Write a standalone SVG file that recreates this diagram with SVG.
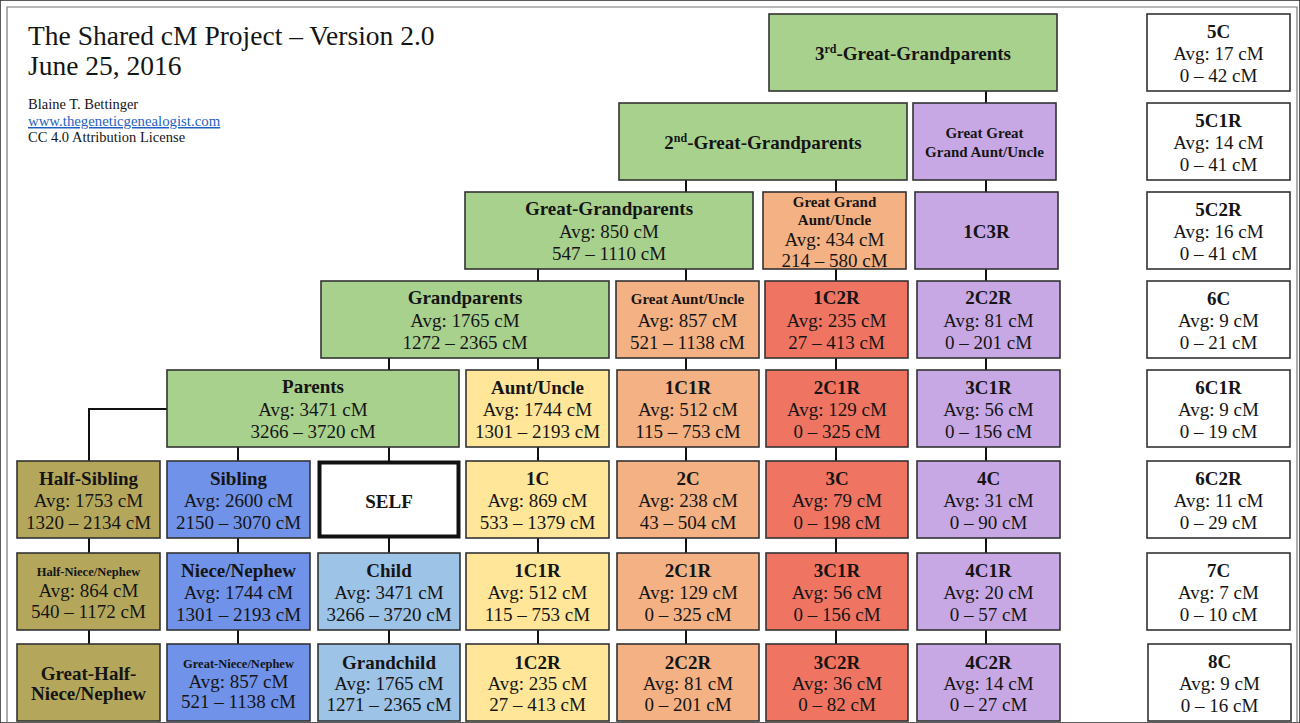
<svg xmlns="http://www.w3.org/2000/svg" width="1300" height="723" viewBox="0 0 1300 723">
<style>
text{font-family:"Liberation Serif","Times New Roman",serif;fill:#151515}
.n text{text-anchor:middle;font-size:19px}
.n .h{font-weight:bold}
.n .s{font-weight:bold;font-size:15px}
.n .xs{font-weight:bold;font-size:12.5px}
rect{stroke:#333;stroke-width:1.6}
.g{fill:#a9d18e}.o{fill:#b4a75c}.bl{fill:#7092e8}.lb{fill:#9dc3e6}.y{fill:#ffe699}.p{fill:#f4b183}.r{fill:#f07462}.pu{fill:#c8a8e4}.w{fill:#fff}
.c line,.c path{stroke:#111;stroke-width:2;fill:none}
</style>
<rect x="0" y="0" width="1300" height="723" fill="#fff" stroke="none"/>
<path d="M7,723 V7 H1297 V723" fill="none" stroke="#777" stroke-width="1.2"/>
<g id="header">
<text x="28" y="45" font-size="27.5">The Shared cM Project – Version 2.0</text>
<text x="28" y="75" font-size="27.5">June 25, 2016</text>
<text x="28" y="109" font-size="14.5">Blaine T. Bettinger</text>
<text x="28" y="126" font-size="14.8" style="fill:#1f5fc4" text-decoration="underline">www.thegeneticgenealogist.com</text>
<text x="28" y="142" font-size="14.5">CC 4.0 Attribution License</text>
</g>
<g id="connectors" class="c">
<line x1="986" y1="91" x2="986" y2="103"/>
<line x1="986" y1="180" x2="986" y2="192"/>
<line x1="986" y1="269" x2="986" y2="281"/>
<line x1="986" y1="358" x2="986" y2="370"/>
<line x1="986" y1="447" x2="986" y2="461"/>
<line x1="986" y1="538" x2="986" y2="553"/>
<line x1="986" y1="630" x2="986" y2="644"/>
<line x1="836" y1="180" x2="836" y2="192"/>
<line x1="836" y1="269" x2="836" y2="281"/>
<line x1="836" y1="358" x2="836" y2="370"/>
<line x1="836" y1="447" x2="836" y2="461"/>
<line x1="836" y1="538" x2="836" y2="553"/>
<line x1="836" y1="630" x2="836" y2="644"/>
<line x1="686" y1="180" x2="686" y2="192"/>
<line x1="686" y1="269" x2="686" y2="281"/>
<line x1="686" y1="358" x2="686" y2="370"/>
<line x1="686" y1="447" x2="686" y2="461"/>
<line x1="686" y1="538" x2="686" y2="553"/>
<line x1="686" y1="630" x2="686" y2="644"/>
<line x1="538" y1="269" x2="538" y2="281"/>
<line x1="538" y1="358" x2="538" y2="370"/>
<line x1="538" y1="447" x2="538" y2="461"/>
<line x1="538" y1="538" x2="538" y2="553"/>
<line x1="538" y1="630" x2="538" y2="644"/>
<line x1="389" y1="358" x2="389" y2="370"/>
<line x1="389" y1="447" x2="389" y2="461"/>
<line x1="389" y1="538" x2="389" y2="553"/>
<line x1="389" y1="630" x2="389" y2="644"/>
<line x1="238" y1="447" x2="238" y2="461"/>
<line x1="238" y1="538" x2="238" y2="553"/>
<line x1="238" y1="630" x2="238" y2="644"/>
<path d="M167,409 H89 V461"/>
<line x1="89" y1="538" x2="89" y2="553"/>
<line x1="89" y1="630" x2="89" y2="644"/>
</g>
<g class="n">
<g id="ggg-grandparents"><rect class="g" x="769" y="14" width="288" height="77"/><text x="913" y="60" class="h">3<tspan font-size="12" dy="-7">rd</tspan><tspan dy="7">-Great-Grandparents</tspan></text></g>
<g id="gg-grandparents"><rect class="g" x="619" y="103" width="288" height="77"/><text x="763" y="149" class="h">2<tspan font-size="12" dy="-7">nd</tspan><tspan dy="7">-Great-Grandparents</tspan></text></g>
<g id="great-grandparents"><rect class="g" x="465" y="192" width="288" height="77"/><text x="609" y="215" class="h">Great-Grandparents</text><text x="609" y="238">Avg: 850 cM</text><text x="609" y="260">547 – 1110 cM</text></g>
<g id="grandparents"><rect class="g" x="321" y="281" width="288" height="77"/><text x="465" y="304" class="h">Grandparents</text><text x="465" y="327">Avg: 1765 cM</text><text x="465" y="349">1272 – 2365 cM</text></g>
<g id="parents"><rect class="g" x="167" y="370" width="292" height="77"/><text x="313" y="393" class="h">Parents</text><text x="313" y="416">Avg: 3471 cM</text><text x="313" y="438">3266 – 3720 cM</text></g>

<g id="ggg-aunt-uncle"><rect class="pu" x="913" y="103" width="143" height="77"/><text x="984.5" y="138" class="s">Great Great</text><text x="984.5" y="157" class="s">Grand Aunt/Uncle</text></g>
<g id="gg-aunt-uncle"><rect class="p" x="763" y="192" width="143" height="77"/><text x="834.5" y="207" class="s">Great Grand</text><text x="834.5" y="225" class="s">Aunt/Uncle</text><text x="834.5" y="246">Avg: 434 cM</text><text x="834.5" y="267">214 – 580 cM</text></g>
<g id="great-aunt-uncle"><rect class="p" x="616" y="281" width="143" height="77"/><text x="687.5" y="304" class="s">Great Aunt/Uncle</text><text x="687.5" y="327">Avg: 857 cM</text><text x="687.5" y="349">521 – 1138 cM</text></g>
<g id="aunt-uncle"><rect class="y" x="466" y="370" width="143" height="77"/><text x="537.5" y="394" class="h">Aunt/Uncle</text><text x="537.5" y="416">Avg: 1744 cM</text><text x="537.5" y="438">1301 – 2193 cM</text></g>

<g id="c1c3r"><rect class="pu" x="915" y="192" width="143" height="77"/><text x="986.5" y="238" class="h">1C3R</text></g>
<g id="c1c2r-top"><rect class="r" x="765" y="281" width="143" height="77"/><text x="836.5" y="304" class="h">1C2R</text><text x="836.5" y="327">Avg: 235 cM</text><text x="836.5" y="349">27 – 413 cM</text></g>
<g id="c2c2r-top"><rect class="pu" x="917" y="281" width="143" height="77"/><text x="988.5" y="304" class="h">2C2R</text><text x="988.5" y="327">Avg: 81 cM</text><text x="988.5" y="349">0 – 201 cM</text></g>
<g id="c1c1r-top"><rect class="p" x="617" y="370" width="142" height="77"/><text x="688" y="394" class="h">1C1R</text><text x="688" y="416">Avg: 512 cM</text><text x="688" y="438">115 – 753 cM</text></g>
<g id="c2c1r-top"><rect class="r" x="766" y="370" width="142" height="77"/><text x="837" y="394" class="h">2C1R</text><text x="837" y="416">Avg: 129 cM</text><text x="837" y="438">0 – 325 cM</text></g>
<g id="c3c1r-top"><rect class="pu" x="917" y="370" width="143" height="77"/><text x="988.5" y="394" class="h">3C1R</text><text x="988.5" y="416">Avg: 56 cM</text><text x="988.5" y="438">0 – 156 cM</text></g>

<g id="half-sibling"><rect class="o" x="17" y="461" width="143" height="77"/><text x="88.5" y="485" class="h">Half-Sibling</text><text x="88.5" y="507">Avg: 1753 cM</text><text x="88.5" y="529">1320 – 2134 cM</text></g>
<g id="sibling"><rect class="bl" x="167" y="461" width="143" height="77"/><text x="238.5" y="485" class="h">Sibling</text><text x="238.5" y="507">Avg: 2600 cM</text><text x="238.5" y="529">2150 – 3070 cM</text></g>
<g id="self"><rect class="w" x="319.5" y="462.5" width="139" height="74" style="stroke:#111;stroke-width:4"/><text x="389" y="508" class="h">SELF</text></g>
<g id="c1c"><rect class="y" x="466" y="461" width="143" height="77"/><text x="537.5" y="485" class="h">1C</text><text x="537.5" y="507">Avg: 869 cM</text><text x="537.5" y="529">533 – 1379 cM</text></g>
<g id="c2c"><rect class="p" x="617" y="461" width="142" height="77"/><text x="688" y="485" class="h">2C</text><text x="688" y="507">Avg: 238 cM</text><text x="688" y="529">43 – 504 cM</text></g>
<g id="c3c"><rect class="r" x="766" y="461" width="142" height="77"/><text x="837" y="485" class="h">3C</text><text x="837" y="507">Avg: 79 cM</text><text x="837" y="529">0 – 198 cM</text></g>
<g id="c4c"><rect class="pu" x="917" y="461" width="143" height="77"/><text x="988.5" y="485" class="h">4C</text><text x="988.5" y="507">Avg: 31 cM</text><text x="988.5" y="529">0 – 90 cM</text></g>

<g id="half-niece-nephew"><rect class="o" x="17" y="553" width="143" height="77"/><text x="88.5" y="576" class="xs">Half-Niece/Nephew</text><text x="88.5" y="597">Avg: 864 cM</text><text x="88.5" y="618">540 – 1172 cM</text></g>
<g id="niece-nephew"><rect class="bl" x="167" y="553" width="143" height="77"/><text x="238.5" y="577" class="h">Niece/Nephew</text><text x="238.5" y="599">Avg: 1744 cM</text><text x="238.5" y="621">1301 – 2193 cM</text></g>
<g id="child"><rect class="lb" x="318" y="553" width="142" height="77"/><text x="389" y="577" class="h">Child</text><text x="389" y="599">Avg: 3471 cM</text><text x="389" y="621">3266 – 3720 cM</text></g>
<g id="c1c1r"><rect class="y" x="466" y="553" width="143" height="77"/><text x="537.5" y="577" class="h">1C1R</text><text x="537.5" y="599">Avg: 512 cM</text><text x="537.5" y="621">115 – 753 cM</text></g>
<g id="c2c1r"><rect class="p" x="617" y="553" width="142" height="77"/><text x="688" y="577" class="h">2C1R</text><text x="688" y="599">Avg: 129 cM</text><text x="688" y="621">0 – 325 cM</text></g>
<g id="c3c1r"><rect class="r" x="766" y="553" width="142" height="77"/><text x="837" y="577" class="h">3C1R</text><text x="837" y="599">Avg: 56 cM</text><text x="837" y="621">0 – 156 cM</text></g>
<g id="c4c1r"><rect class="pu" x="917" y="553" width="143" height="77"/><text x="988.5" y="577" class="h">4C1R</text><text x="988.5" y="599">Avg: 20 cM</text><text x="988.5" y="621">0 – 57 cM</text></g>

<g id="great-half-niece-nephew"><rect class="o" x="17" y="644" width="143" height="77"/><text x="88.5" y="680" class="h">Great-Half-</text><text x="88.5" y="700" class="h">Niece/Nephew</text></g>
<g id="great-niece-nephew"><rect class="bl" x="167" y="644" width="143" height="77"/><text x="238.5" y="668" class="xs">Great-Niece/Nephew</text><text x="238.5" y="688">Avg: 857 cM</text><text x="238.5" y="708">521 – 1138 cM</text></g>
<g id="grandchild"><rect class="lb" x="318" y="644" width="142" height="77"/><text x="389" y="669" class="h">Grandchild</text><text x="389" y="690">Avg: 1765 cM</text><text x="389" y="711">1271 – 2365 cM</text></g>
<g id="c1c2r"><rect class="y" x="466" y="644" width="143" height="77"/><text x="537.5" y="669" class="h">1C2R</text><text x="537.5" y="690">Avg: 235 cM</text><text x="537.5" y="711">27 – 413 cM</text></g>
<g id="c2c2r"><rect class="p" x="617" y="644" width="142" height="77"/><text x="688" y="669" class="h">2C2R</text><text x="688" y="690">Avg: 81 cM</text><text x="688" y="711">0 – 201 cM</text></g>
<g id="c3c2r"><rect class="r" x="766" y="644" width="142" height="77"/><text x="837" y="669" class="h">3C2R</text><text x="837" y="690">Avg: 36 cM</text><text x="837" y="711">0 – 82 cM</text></g>
<g id="c4c2r"><rect class="pu" x="917" y="644" width="143" height="77"/><text x="988.5" y="669" class="h">4C2R</text><text x="988.5" y="690">Avg: 14 cM</text><text x="988.5" y="711">0 – 27 cM</text></g>

<g id="r5c"><rect class="w" x="1147" y="14" width="143" height="77"/><text x="1218.5" y="38" class="h">5C</text><text x="1218.5" y="60">Avg: 17 cM</text><text x="1218.5" y="82">0 – 42 cM</text></g>
<g id="r5c1r"><rect class="w" x="1147" y="103" width="143" height="77"/><text x="1218.5" y="127" class="h">5C1R</text><text x="1218.5" y="149">Avg: 14 cM</text><text x="1218.5" y="171">0 – 41 cM</text></g>
<g id="r5c2r"><rect class="w" x="1147" y="192" width="143" height="77"/><text x="1218.5" y="216" class="h">5C2R</text><text x="1218.5" y="238">Avg: 16 cM</text><text x="1218.5" y="260">0 – 41 cM</text></g>
<g id="r6c"><rect class="w" x="1147" y="281" width="143" height="77"/><text x="1218.5" y="305" class="h">6C</text><text x="1218.5" y="327">Avg: 9 cM</text><text x="1218.5" y="349">0 – 21 cM</text></g>
<g id="r6c1r"><rect class="w" x="1147" y="370" width="143" height="77"/><text x="1218.5" y="394" class="h">6C1R</text><text x="1218.5" y="416">Avg: 9 cM</text><text x="1218.5" y="438">0 – 19 cM</text></g>
<g id="r6c2r"><rect class="w" x="1147" y="461" width="143" height="77"/><text x="1218.5" y="485" class="h">6C2R</text><text x="1218.5" y="507">Avg: 11 cM</text><text x="1218.5" y="529">0 – 29 cM</text></g>
<g id="r7c"><rect class="w" x="1147" y="553" width="143" height="77"/><text x="1218.5" y="577" class="h">7C</text><text x="1218.5" y="599">Avg: 7 cM</text><text x="1218.5" y="621">0 – 10 cM</text></g>
<g id="r8c"><rect class="w" x="1148" y="644" width="143" height="77"/><text x="1219.5" y="668" class="h">8C</text><text x="1219.5" y="690">Avg: 9 cM</text><text x="1219.5" y="712">0 – 16 cM</text></g>
</g>
</svg>
